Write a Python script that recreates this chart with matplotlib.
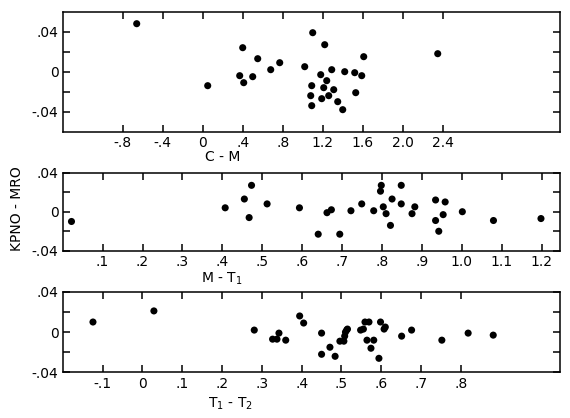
import numpy as np
import matplotlib
matplotlib.use('Agg')
import matplotlib.pyplot as plt

# Panel 1: C - M
cm_x = [-0.66, 0.05, 0.40, 0.37, 0.41, 0.50, 0.55, 0.68, 0.77, 1.10, 1.22, 1.02, 1.61,
        2.35, 1.29, 1.42, 1.52, 1.59, 1.18, 1.24, 1.09, 1.21, 1.31, 1.08, 1.26, 1.19,
        1.53, 1.35, 1.09, 1.40]
cm_y = [0.048, -0.014, 0.024, -0.004, -0.011, -0.005, 0.013, 0.002, 0.009, 0.039, 0.027,
        0.005, 0.015, 0.018, 0.002, 0.000, -0.001, -0.004, -0.003, -0.009, -0.014, -0.016,
        -0.018, -0.024, -0.024, -0.027, -0.021, -0.030, -0.034, -0.038]

# Panel 2: M - T1
mt_x = [0.022, 0.407, 0.455, 0.473, 0.467, 0.512, 0.593, 0.640, 0.662, 0.673, 0.694,
        0.722, 0.749, 0.779, 0.798, 0.796, 0.803, 0.810, 0.825, 0.821, 0.848, 0.848,
        0.875, 0.882, 0.934, 0.958, 0.953, 0.934, 0.942, 1.001, 1.079, 1.198]
mt_y = [-0.010, 0.004, 0.013, 0.027, -0.006, 0.008, 0.004, -0.023, -0.001, 0.002, -0.023,
        0.001, 0.008, 0.001, 0.027, 0.021, 0.005, -0.002, 0.013, -0.014, 0.027, 0.008,
        -0.002, 0.005, 0.012, 0.010, -0.003, -0.009, -0.020, 0.000, -0.009, -0.007]

# Panel 3: T1 - T2
tt_x = [-0.124, 0.029, 0.281, 0.327, 0.338, 0.343, 0.360, 0.395, 0.405, 0.450, 0.450,
        0.471, 0.484, 0.496, 0.506, 0.508, 0.510, 0.513, 0.515, 0.548, 0.555, 0.559,
        0.569, 0.564, 0.581, 0.574, 0.594, 0.598, 0.610, 0.607, 0.651, 0.676, 0.752,
        0.818, 0.881]
tt_y = [0.010, 0.021, 0.002, -0.007, -0.007, -0.001, -0.008, 0.016, 0.009, -0.001, -0.022,
        -0.015, -0.024, -0.009, -0.009, -0.004, 0.000, 0.002, 0.003, 0.002, 0.003, 0.010,
        0.010, -0.008, -0.008, -0.016, -0.026, 0.010, 0.005, 0.003, -0.004, 0.002, -0.008,
        -0.001, -0.003]

cm_ticks = [-0.8, -0.4, 0, 0.4, 0.8, 1.2, 1.6, 2.0, 2.4]
cm_labels = ['-.8', '-.4', '0', '.4', '.8', '1.2', '1.6', '2.0', '2.4']
mt_ticks = [0.1, 0.2, 0.3, 0.4, 0.5, 0.6, 0.7, 0.8, 0.9, 1.0, 1.1, 1.2]
mt_labels = ['.1', '.2', '.3', '.4', '.5', '.6', '.7', '.8', '.9', '1.0', '1.1', '1.2']
tt_ticks = [-0.1, 0, 0.1, 0.2, 0.3, 0.4, 0.5, 0.6, 0.7, 0.8]
tt_labels = ['-.1', '0', '.1', '.2', '.3', '.4', '.5', '.6', '.7', '.8']

fig = plt.figure(figsize=(5.7, 4.18), dpi=100)

panels = [
    ([0.110, 0.685, 0.872, 0.287], cm_x, cm_y, (-1.4, 3.57), (-0.06, 0.06), cm_ticks, cm_labels),
    ([0.110, 0.400, 0.872, 0.187], mt_x, mt_y, (0.0, 1.245), (-0.04, 0.04), mt_ticks, mt_labels),
    ([0.110, 0.109, 0.872, 0.193], tt_x, tt_y, (-0.2, 1.048), (-0.04, 0.04), tt_ticks, tt_labels),
]

for rect, x, y, xl, yl, xt, xlab in panels:
    ax = fig.add_axes(rect)
    ax.scatter(x, y, s=26, color='black', edgecolors='none', zorder=3)
    ax.set_xlim(*xl)
    ax.set_ylim(*yl)
    ax.set_xticks(xt)
    ax.set_xticklabels(xlab, fontsize=10)
    ax.set_yticks([-0.04, -0.02, 0, 0.02, 0.04])
    ax.set_yticklabels(['-.04', '', '0', '', '.04'], fontsize=10)
    ax.tick_params(direction='in', length=5, width=1.1, top=True, right=True, pad=3)
    for sp in ax.spines.values():
        sp.set_linewidth(1.1)

fig.text(0.39, 0.624, 'C - M', ha='center', va='center', fontsize=10)
fig.text(0.39, 0.333, 'M - T$_\\mathregular{1}$', ha='center', va='center', fontsize=10)
fig.text(0.405, 0.035, 'T$_\\mathregular{1}$ - T$_\\mathregular{2}$', ha='center', va='center', fontsize=10)
fig.text(0.03, 0.50, 'KPNO - MRO', ha='center', va='center', rotation=90, fontsize=10)

fig.savefig('out.png', dpi=100)
